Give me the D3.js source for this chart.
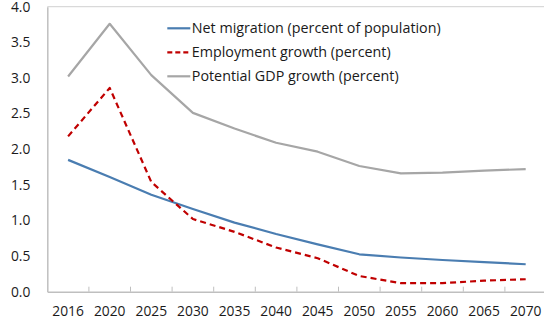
<!DOCTYPE html>
<html>
<head>
<meta charset="utf-8">
<script src="https://cdn.jsdelivr.net/npm/d3@7"></script>
<style>
  html, body { margin: 0; padding: 0; background: #fff; }
  svg { display: block; }
  text { font-family: "Open Sans", "Noto Sans", sans-serif; fill: #1a1a1a; }
</style>
</head>
<body>
<svg id="chart" width="544" height="324"></svg>
<script>
// Long-run projections by year
const years = ["2016", "2020", "2025", "2030", "2035", "2040", "2045", "2050", "2055", "2060", "2065", "2070"];
const netMigration = [1.85, 1.61, 1.36, 1.16, 0.97, 0.81, 0.665, 0.525, 0.48, 0.445, 0.415, 0.385];
const employmentGrowth = [2.18, 2.86, 1.54, 1.02, 0.84, 0.62, 0.47, 0.22, 0.12, 0.12, 0.155, 0.175];
const potentialGdpGrowth = [3.02, 3.76, 3.04, 2.51, 2.29, 2.09, 1.965, 1.764, 1.66, 1.67, 1.70, 1.72];
const yTicks = [0, 0.5, 1.0, 1.5, 2.0, 2.5, 3.0, 3.5, 4.0];

const seriesNames = [
  "Net migration (percent of population)",
  "Employment growth (percent)",
  "Potential GDP growth (percent)"
];
const seriesValues = [netMigration, employmentGrowth, potentialGdpGrowth];
const seriesColors = ["#4a7db1", "#c00000", "#a6a6a6"];
const seriesDash = [null, "6,4", null];

const svg = d3.select("#chart");
const plotLeft = 47.3, plotRight = 546.5, plotTop = 6.7, plotBottom = 291.7;

const x = d3.scaleBand().domain(years).range([plotLeft, plotRight]);
const y = d3.scaleLinear().domain([0, 4]).range([plotBottom, plotTop]);

// Top frame line of the plot area
svg.append("line")
  .attr("x1", plotLeft).attr("x2", 544)
  .attr("y1", plotTop).attr("y2", plotTop)
  .attr("stroke", "#d0d0d0").attr("stroke-width", 1);

// Y axis
const yAxis = svg.append("g")
  .attr("transform", `translate(${plotLeft},0)`)
  .call(d3.axisLeft(y).tickValues(yTicks).tickFormat(d3.format(".1f")).tickSize(0).tickPadding(17));
yAxis.select(".domain").attr("stroke", "#bfbfbf").attr("stroke-width", 1.5);
yAxis.selectAll("text").attr("font-size", 13.8).style("font-family", null).attr("fill", "#1a1a1a");

// X axis with tick marks between categories, pointing inward
const xAxis = svg.append("g")
  .attr("transform", `translate(0,${plotBottom})`)
  .call(d3.axisBottom(x).tickSize(0).tickPadding(15));
xAxis.select(".domain").attr("stroke", "#bfbfbf").attr("stroke-width", 1.5);
xAxis.selectAll("text").attr("font-size", 13.8).style("font-family", null).attr("fill", "#1a1a1a");
xAxis.selectAll(".sep")
  .data(years.slice(1))
  .join("line")
  .attr("class", "sep")
  .attr("x1", d => x(d)).attr("x2", d => x(d))
  .attr("y1", 0).attr("y2", -5)
  .attr("stroke", "#bfbfbf").attr("stroke-width", 1);

// Series lines
const line = d3.line()
  .x((d, i) => x(years[i]) + x.bandwidth() / 2)
  .y(d => y(d));

seriesValues.forEach((vals, k) => {
  svg.append("path")
    .datum(vals)
    .attr("fill", "none")
    .attr("stroke", seriesColors[k])
    .attr("stroke-width", 2.2)
    .attr("stroke-dasharray", seriesDash[k])
    .attr("stroke-linejoin", "round")
    .attr("d", line);
});

// Legend
const legend = svg.append("g").attr("transform", "translate(167.3,28.3)");
seriesNames.forEach((name, k) => {
  const g = legend.append("g").attr("transform", `translate(0,${k * 24})`);
  g.append("line")
    .attr("x1", 0).attr("x2", 23)
    .attr("stroke", seriesColors[k])
    .attr("stroke-width", 2.2)
    .attr("stroke-dasharray", seriesDash[k] ? "5,3" : null);
  g.append("text")
    .attr("x", 24.5).attr("dy", "0.35em")
    .attr("font-size", 14.3)
    .text(name);
});
</script>
</body>
</html>
